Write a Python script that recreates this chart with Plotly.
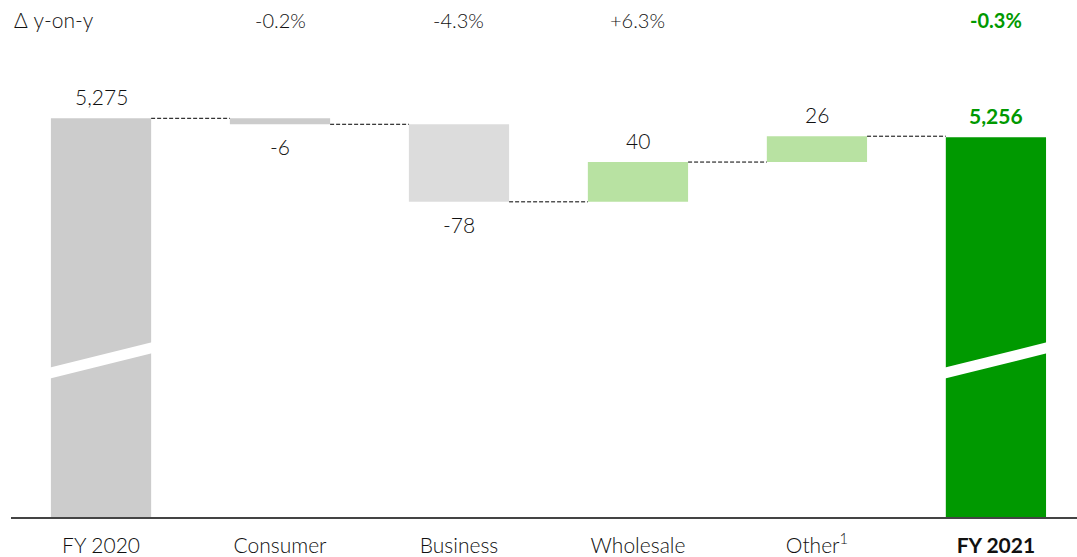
import plotly.graph_objects as go

categories = ["FY 2020", "Consumer", "Business", "Wholesale", "Other", "FY 2021"]
tick_labels = ["FY 2020", "Consumer", "Business", "Wholesale", "Other<sup>1</sup>", "<b>FY 2021</b>"]
values = [5275, -6, -78, 40, 26, 5256]
measures = ["total", "relative", "relative", "relative", "relative", "total"]
value_labels = ["5,275", "-6", "-78", "40", "26", "5,256"]
yoy_labels = ["", "-0.2%", "-4.3%", "+6.3%", "", "-0.3%"]
colors = ["#cccccc", "#cccccc", "#dcdcdc", "#b8e2a2", "#b8e2a2", "#009900"]

Y_MIN, Y_MAX = 4874, 5394
BAR_W = 0.56
TXT = "#111111"
GREEN = "#009900"
FONT = "Lato"
WEIGHT = 300

bases, heights, tops, bottoms = [], [], [], []
running = 0
for v, m in zip(values, measures):
    if m == "total":
        b, h = 0, v
        running = v
    else:
        b, h = running, v
        running += v
    bases.append(b)
    heights.append(h)
    tops.append(max(b, b + h))
    bottoms.append(min(b, b + h))

xs = list(range(len(categories)))
fig = go.Figure(go.Bar(
    x=xs, y=heights, base=bases, width=BAR_W,
    marker=dict(color=colors, line=dict(width=0)),
    hoverinfo="skip",
))

shapes = []
levels = []
running = 0
for v, m in zip(values, measures):
    running = v if m == "total" else running + v
    levels.append(running)
for i in range(len(xs) - 1):
    shapes.append(dict(type="line", xref="x", yref="y",
                       x0=xs[i] + BAR_W / 2, x1=xs[i + 1] - BAR_W / 2,
                       y0=levels[i], y1=levels[i],
                       line=dict(color="#000000", width=1, dash="4px,2px")))

for i, m in enumerate(measures):
    if m == "total":
        xl, xr = xs[i] - BAR_W / 2 - 0.01, xs[i] + BAR_W / 2 + 0.01
        yl, yr, th = Y_MIN + 139, Y_MIN + 165, 11
        shapes.append(dict(type="path", xref="x", yref="y",
                           path=f"M {xl},{yl} L {xr},{yr} L {xr},{yr+th} L {xl},{yl+th} Z",
                           fillcolor="white", line=dict(width=0)))

annotations = []
for i, (lab, v, m) in enumerate(zip(value_labels, values, measures)):
    bold = i == len(values) - 1
    if v >= 0 or m == "total":
        y, shift, anchor = tops[i], 7, "bottom"
    else:
        y, shift, anchor = bottoms[i], -8, "top"
    annotations.append(dict(x=xs[i], y=y, xref="x", yref="y", text=f"<b>{lab}</b>" if bold else lab,
                            showarrow=False, yanchor=anchor, yshift=shift,
                            font=dict(family=FONT, size=21, color=GREEN if bold else TXT,
                                      weight=700 if bold else WEIGHT)))

for i, lab in enumerate(yoy_labels):
    if not lab:
        continue
    bold = i == len(values) - 1
    annotations.append(dict(x=xs[i], y=20, xref="x", yref="paper", yanchor="middle",
                            text=f"<b>{lab}</b>" if bold else lab, showarrow=False,
                            font=dict(family=FONT, size=20, color=GREEN if bold else TXT,
                                      weight=700 if bold else WEIGHT)))
annotations.append(dict(x=12, y=20, xref="paper", yref="paper", text="Δ y-on-y", showarrow=False,
                        xanchor="left", yanchor="middle",
                        font=dict(family=FONT, size=21, color=TXT, weight=WEIGHT)))

W, H = 1077, 557
L, B = 11, 37
for a in annotations:
    if a["yref"] == "paper":
        a["y"] = (H - B - a["y"]) / (H - B)
    if a["xref"] == "paper":
        a["x"] = (a["x"] - L) / (W - L)

fig.update_layout(
    width=W, height=H,
    margin=dict(l=L, r=0, t=0, b=B, pad=0),
    plot_bgcolor="white", paper_bgcolor="white",
    showlegend=False,
    shapes=shapes, annotations=annotations,
    font=dict(family=FONT, color=TXT),
    xaxis=dict(range=[-0.503, 5.453], tickmode="array", tickvals=xs, ticktext=tick_labels,
               showgrid=False, zeroline=False, showline=True, linecolor="#444444", linewidth=2,
               ticks="", ticklabelstandoff=9,
               tickfont=dict(family=FONT, size=21, color="#111111", weight=WEIGHT), fixedrange=True),
    yaxis=dict(range=[Y_MIN, Y_MAX], visible=False, showgrid=False, zeroline=False, fixedrange=True),
)

fig.write_html("out.html", config={"displayModeBar": False})
